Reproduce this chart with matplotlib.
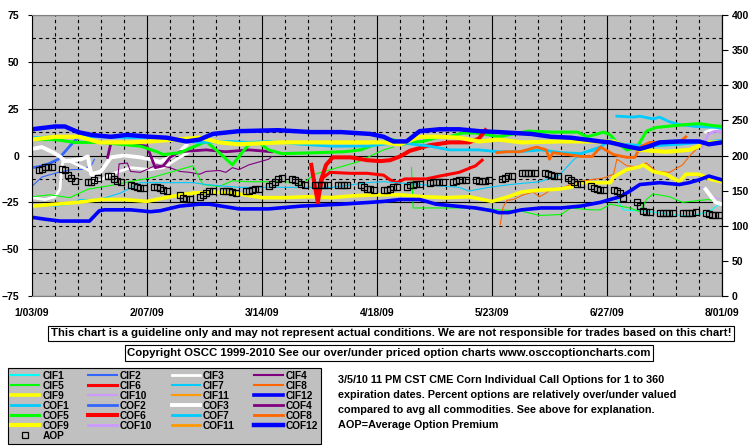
import numpy as np
import pandas as pd
import matplotlib
matplotlib.use('Agg')
import matplotlib.pyplot as plt

plt.rcParams['font.family'] = ['Liberation Sans', 'DejaVu Sans']
plt.rcParams['font.weight'] = 'bold'

# x axis: days since 1/03/09
date_ticks = [0, 35, 70, 105, 140, 175, 210]
date_labels = ['1/03/09', '2/07/09', '3/14/09', '4/18/09', '5/23/09', '6/27/09', '8/01/09']
left_ticks = [75, 50, 25, 0, -25, -50, -75]
right_ticks = [0, 50, 100, 150, 200, 250, 300, 350, 400]

nan = np.nan

# percent over/under valued, (days, values)
cif1_d = [178, 180, 188, 200, 206, 210]
cif1_v = [-23.5, -29, -30, -32.5, -30, -25]
cof1_d = [178, 183, 185, 189, 191, 194, 197, 202, 208, 210]
cof1_v = [21, 20.5, 21, 19.5, 20.5, 18, 16.5, 15.5, 15, 14.5]

cif2_d = [0, 3, 8, 12, 15, 18, 19]
cif2_v = [-16.5, -11.5, -9, -7.5, -7.5, -5.5, -2]
cof2_d = [0, 2, 5, 8, 10, 12, 14, 16]
cof2_v = [-6.5, -6, -4.5, -2, 2, 6, 9.5, 10.5]

cif3_d = [0, 4, 7, 8.5, 9, 9.5, 12, 15, 18, 19, 21, 24, 30, 36, 40, 44, 48, nan, 205, 207, 210]
cif3_v = [-22.5, -23.5, -22, -18, -7.5, -2, -3.5, -6, -8.5, -14.5, -13, -10, -6.5, -7.5, -6.5, -2, 2,
          nan, 12.5, 14, 15]
cof3_d = [0, 3, 6, 8.5, 10, 15, 17, 18, 21, 24, 28, 33, 36, 39, 42, 45, 47, nan, 205, 208, 210]
cof3_v = [3.5, 4.5, 2, -0.5, -3, -2, -0.5, -10, -8.5, -1, 0, -1, -2, -3.5, -1, 2, 5.5, nan, -18, -25, -26]

cif4_d = [26, 26.5, 29, 30, 33, 38, 42, 45, 48, 51, 53, 57, 59, 61, 63, 66, 72, 73]
cif4_v = [-14, -4.5, -4, -8.5, -9, -5, -6.5, -8.5, -9, -10, -8.5, -8, -9, -6.5, -7.5, -5, -2, -0.5]
cof4_d = [23, 24, 30, 35, 37.5, 40, 42, 45, 53, 59, 66, 73]
cof4_v = [-1, 6.5, 6, 5, -6.5, -5.5, -1, 2, 3, 2, 3, 2]

cif5_d = [0, 5.5, 11.5, 17, 24, 31, 36, 43, 49, 52, 57, 61, 66, 72, 77, 82, 86, 91, 99, 107, 110, nan,
          115.5, 116, 121, 130, 136, 142, 148.5, 154.5, 161, 164, 170, 173, 176, 182, 185, 187, 189, 194,
          198, 203, 206, 210]
cif5_v = [-22, -21, -22.5, -18, -16, -13.5, -12, -8.5, -5.5, -15.5, -16.5, -13.5, -14, -14, -14, -15.5,
          -10, -7.5, -3.5, 3, 4.5, nan,
          -6.5, -28, -28, -28, -28, -29, -29.5, -32, -31.5, -28, -29, -29, -26, -28, -30, -23.5, -20.5, -22,
          -25, -24, -23.5, -26]
cof5_d = [0, 7, 13, 21, 27, 33, 38, 40, 45, 49, 53, 57, 61, 63, 66, 69, 72, 76, 87, 95, 100, 103, 107, 110,
          113, 115, 119, 123, 127, 131, 135, 139, 142, 151, 158, 166, 169, 174, 176, 178, 181, 184, 187,
          190, 199, 203, 207, 210]
cof5_v = [8.5, 8.5, 7, 7, 6, 5, 2, 0.5, 1.5, 4.5, 7.5, 1.5, -5, -0.5, 6, 7, 3, 1, 1.5, 2, 3, 5, 7, 8.5,
          6, 7, 7.5, 9.5, 10, 12, 12, 11, 10, 13, 12.5, 12.5, 10, 12.5, 11, 7, 3, 4, 13, 15, 16.5, 17, 16, 15.5]

cif6_d = [87.3, 88.5, 90.7, 96.8, 102, 107, 109, 111, 113.5, 120, 124, 130, 135, 137]
cif6_v = [-22, -12, -9, -9.5, -9.5, -10.5, -13, -14.5, -12.5, -12.5, -11, -9, -5.5, -2.5]
cof6_d = [85, 86, 87, 88, 89.5, 91.5, 97, 102, 106, 109, 112, 115, 121, 127, 133, 136, 138]
cof6_v = [-5, -15.5, -25, -13, -5, -1, -1, -2.5, -3, -2.5, -0.5, 2.5, 5.5, 7, 7, 9, 13.5]

cif7_d = [0, 7, 11.5, 14.5, 20.5, 27, 33, 49, 53, 63, 91.5, 102, 107, 118, 130, 133, 139, 145.5, 154.5,
          160.5, 165, 168, 173]
cif7_v = [-26, -27, -26, -23.5, -23.5, -20, -14.5, -14.5, -15.5, -17, -17, -14.5, -14, -15.5, -17, -19,
          -17, -15.5, -14, -10.5, -2, 1.5, 3]
cof7_d = [0, 7.5, 20, 30, 36, 43, 51, 60, 66, 72, 82, 91, 102, 112, 116, 121, 127, 136, 142, 148, 155,
          161, 167, 173, 176, 180, 188, 197, 203, 210]
cof7_v = [9.5, 10, 10, 9.5, 9.5, 8.5, 7, 7.5, 7, 7.5, 6, 5, 5, 7, 6, 5, 3, 3, 2, 2, 3, 1.5, 1, 4.5, 8.5,
          6, 5, 6, 7, 8]

cif8_d = [142.5, 143.3, 144.5, 146.5, 149.5, 152.5, 154.5, 156.5, 158.5, 160.5, 166, 170, 174, 177, 178,
          179, 181, 184, 187, 190, 194, 198, 200, 202, 204]
cif8_v = [-37, -28, -24, -23.5, -21, -19.5, -22, -20, -17.5, -18, -14, -13, -12, -10, -2, -3, -5.5, -6,
          -4, -8.5, -9, -5, -0.5, 3, 6.5]
cof8_d = [141.5, 144.5, 148.5, 153.5, 156.5, 157.5, 158.5, 163, 167, 170.5, 173, 177, 181, 183.5, 185,
          188, 193, 197, 199]
cof8_v = [1.5, 2, 2, 4.5, 3, -2, 1.5, 0.5, -0.5, -0.5, 4.5, 0.5, -1, -1, 4.5, 7, 7, 7, 10]

cif9_d = [0, 7, 14, 21, 28, 35, 42, 49, 56, 63, 70, 77, 84, 91, 98, 105, 112, 119, 126, 133, 140, 145,
          149, 154, 160, 164, 167, 171, 176, 177, 181, 185, 186, 189, 193, 197, 199, 203, 205, 207, 210]
cif9_v = [-27, -26, -25, -23.5, -23.5, -24.5, -22, -20, -19.5, -20.5, -22.5, -22.5, -22, -22.5, -21.5,
          -21, -21, -22, -22.5, -22, -24.5, -22, -19.5, -18.5, -18, -17, -14.5, -14.5, -14.5, -11.5, -7.5,
          -6, -5, -8.5, -10, -14, -10, -10, -11.5, -13, -14]
cof9_d = [0, 7, 14.5, 20.5, 30, 36, 43.5, 51, 57, 63, 75.5, 91, 107, 112, 118, 124, 130, 136, 142, 149,
          161, 173, 177, 180, 185, 193, 200, 203, 206, 210]
cof9_v = [8.5, 10, 10, 7, 7, 7.5, 8.5, 9.5, 7, 6, 7, 7, 7, 6, 10, 10, 9.5, 7.5, 8.5, 7, 7.5, 7.5, 7.5,
          5.5, 3, 2, 3, 5, 7, 7]

cif10_d = [204, 205.5, 208, 210]
cif10_v = [-17, -20, -22.5, -23.5]
cof10_d = [204, 205, 206, 208, 210]
cof10_v = [4.5, 8.5, 11.5, 13, 12.5]

cif12_d = [0, 4, 8.5, 17.5, 20.5, 22, 30, 36, 39, 45, 51, 54, 63, 72, 82, 94, 103, 107, 112, 118, 123,
           129, 135, 140, 142, 145, 149, 155, 161, 167, 173, 176, 179, 182, 185, 191, 197, 200, 203, 206, 210]
cif12_v = [-33, -34, -35, -35, -29.5, -29, -29, -30, -29.5, -27, -26, -26, -28.5, -28.5, -27, -26, -25,
           -24.5, -23.5, -23.5, -26, -27, -28, -29.5, -30.5, -30.5, -29, -28, -28, -27, -25, -23.5, -22,
           -19, -15.5, -14.5, -15.5, -14.5, -13, -11, -13]
cof12_d = [0, 7, 10, 14, 18, 24, 29, 36, 41, 47, 51, 55, 63, 75, 85, 94, 103, 107, 110, 114, 118, 124,
           130, 136, 142, 152, 158, 164, 173, 176, 182, 185, 188, 191, 197, 203, 206, 210]
cof12_v = [14, 15.5, 15.5, 12.5, 11, 10, 11, 10, 9.5, 7.5, 8.5, 11.5, 13, 13.5, 12.5, 12.5, 11.5, 10, 7.5,
           7.5, 13, 14, 14, 13, 12.5, 11.5, 10, 9.5, 7.5, 7, 4.5, 3.5, 5, 7, 7.5, 7.5, 6, 7]

# average option premium, one value per trading day (Jan 5 - Jul 31 2009)
holidays = ['2009-01-19', '2009-02-16', '2009-04-10', '2009-05-25', '2009-07-03']
aop_v = [-8, -7, -6, -6, -6,
         -7, -8, -10.5, -12, -13.5,
         -14, -14, -13, -12,
         -11, -11, -12.5, -13.5, -14,
         -15.5, -16.5, -17, -17.5, -17.5,
         -17, -17, -17.5, -18.5, -19,
         -21, -22.5, -23, -23,
         -22, -21, -20, -19, -19,
         -19, -19, -19, -19.5, -20,
         -19, -19, -18.5, -18, -18,
         -16.5, -15, -14, -12.5, -12,
         -12.5, -13, -14, -15, -15.5,
         -15.5, -15.5, -15.5, -15.5, -15.5,
         -15.5, -16, -16, -16,
         -16, -17, -18, -18, -18.5,
         -18.5, -18.5, -18, -17, -17,
         -17, -16, -15.5, -15, -15,
         -14.5, -14, -14, -14, -14,
         -14, -13.5, -13, -13, -13,
         -13, -13.5, -13.5, -13.5, -13,
         -12.5, -12, -11, -11,
         -9.5, -9.5, -9.5, -9.5, -9.5,
         -9.5, -10, -10.5, -11, -11,
         -12, -13, -14, -15, -15,
         -16.5, -17.5, -18, -18.5, -18.5,
         -18.5, -19, -20, -22.5,
         -25, -27, -29.5, -30, -30,
         -30.5, -30.5, -30.5, -30.5, -30.5,
         -30.5, -30.5, -30.5, -30.5, -30,
         -30.5, -31, -31.5, -31.5, -31.5]
trade_days = pd.bdate_range('2009-01-05', '2009-07-31').drop(pd.to_datetime(holidays))
aop_d = (trade_days - pd.Timestamp('2009-01-03')).days

# label, days, values, colour, width
series = [
    ('CIF1', cif1_d, cif1_v, '#00FFFF', 0.8),
    ('CIF2', cif2_d, cif2_v, '#3366FF', 0.8),
    ('CIF3', cif3_d, cif3_v, '#FFFFFF', 2.0),
    ('CIF4', cif4_d, cif4_v, '#800080', 0.8),
    ('CIF5', cif5_d, cif5_v, '#00FF00', 0.8),
    ('CIF6', cif6_d, cif6_v, '#FF0000', 2.2),
    ('CIF7', cif7_d, cif7_v, '#00CCFF', 0.8),
    ('CIF8', cif8_d, cif8_v, '#FF6600', 0.8),
    ('CIF9', cif9_d, cif9_v, '#FFFF00', 2.6),
    ('CIF10', cif10_d, cif10_v, '#CC99FF', 0.8),
    ('CIF11', [], [], '#FF9900', 0.8),
    ('CIF12', cif12_d, cif12_v, '#0000FF', 2.6),
    ('COF1', cof1_d, cof1_v, '#00CCFF', 2.0),
    ('COF2', cof2_d, cof2_v, '#3366FF', 2.0),
    ('COF3', cof3_d, cof3_v, '#FFFFFF', 2.8),
    ('COF4', cof4_d, cof4_v, '#800080', 2.0),
    ('COF5', cof5_d, cof5_v, '#00FF00', 2.2),
    ('COF6', cof6_d, cof6_v, '#FF0000', 2.9),
    ('COF7', cof7_d, cof7_v, '#00CCFF', 2.0),
    ('COF8', cof8_d, cof8_v, '#FF6600', 2.0),
    ('COF9', cof9_d, cof9_v, '#FFFF00', 3.0),
    ('COF10', cof10_d, cof10_v, '#CC99FF', 2.0),
    ('COF11', [], [], '#FF9900', 2.0),
    ('COF12', cof12_d, cof12_v, '#0000FF', 3.2),
]

fig = plt.figure(figsize=(7.55, 4.46), dpi=100)
ax = fig.add_axes([32 / 755, 1 - 296 / 446, 690 / 755, 281 / 446])
ax.set_facecolor('#C0C0C0')

handles = {}
for name, d, v, col, lw in series:
    line, = ax.plot(d, v, color=col, lw=lw, solid_joinstyle='round', label=name)
    handles[name] = line
aop, = ax.plot(aop_d, aop_v, ls='none', marker='s', ms=4.3, mfc='none', mec='black', mew=0.9,
               zorder=4, label='AOP')
handles['AOP'] = aop

ax.set_xlim(0, 210)
ax.set_ylim(-75, 75)
ax.set_xticks(date_ticks)
ax.set_xticklabels(date_labels)
ax.set_xticks(np.arange(0, 211, 7), minor=True)
ax.set_yticks(left_ticks)
ax.set_yticks(np.arange(-62.5, 75, 25), minor=True)
ax.set_axisbelow(True)
ax.grid(which='major', color='black', lw=0.8, ls='-')
ax.grid(which='minor', color='black', lw=0.8, ls=(0, (3, 3)))
ax.tick_params(which='minor', length=0)
ax.tick_params(axis='x', which='major', length=0, pad=9, labelsize=7.5)
ax.tick_params(axis='y', which='major', length=3, width=0.8, pad=6, labelsize=7.5)
for s in ('top', 'bottom'):
    ax.spines[s].set_color('#808080')
ax.spines['left'].set_color('black')

ax2 = ax.twinx()
ax2.set_ylim(0, 400)
ax2.set_yticks(right_ticks)
ax2.tick_params(axis='y', length=4, width=0.8, pad=3, labelsize=7.5)
ax2.spines['right'].set_color('black')
for s in ('top', 'bottom', 'left'):
    ax2.spines[s].set_visible(False)

# legend laid out row by row like the original (matplotlib fills by column)
names = [s[0] for s in series] + ['AOP']
order = [n for c in range(4) for n in names[c::4]]
leg = fig.legend([handles[n] for n in order], order, loc='upper left',
                 bbox_to_anchor=(8 / 755, 1 - 368 / 446), ncol=4, frameon=True, fancybox=False,
                 edgecolor='black', facecolor='#C0C0C0', framealpha=1, borderaxespad=0,
                 prop={'weight': 'bold', 'size': 7.3}, handlelength=2.8, handletextpad=0.3,
                 columnspacing=1.9, labelspacing=0.0, borderpad=0.3)
leg.get_frame().set_linewidth(0.8)
for n, ln in zip(order, leg.get_lines()):
    if n.startswith('CIF') and n not in ('CIF3', 'CIF6', 'CIF9', 'CIF12'):
        ln.set_linewidth(1.5)

fig.text(391 / 755, 1 - 333.5 / 446,
         'This chart is a guideline only and may not represent actual conditions. '
         'We are not responsible for trades based on this chart!',
         ha='center', va='center', fontsize=8.2, fontweight='bold',
         bbox=dict(boxstyle='square,pad=0.22', fc='white', ec='black', lw=0.8))
fig.text(389 / 755, 1 - 353 / 446,
         'Copyright OSCC 1999-2010 See our over/under priced option charts www.osccoptioncharts.com',
         ha='center', va='center', fontsize=8.2, fontweight='bold',
         bbox=dict(boxstyle='square,pad=0.22', fc='white', ec='black', lw=0.8))

notes = ['3/5/10 11 PM CST CME Corn Individual Call Options for 1 to 360',
         'expiration dates. Percent options are relatively over/under valued',
         'compared to avg all commodities. See above for explanation.',
         'AOP=Average Option Premium']
for i, t in enumerate(notes):
    fig.text(338 / 755, 1 - (380 + 15 * i) / 446, t, ha='left', va='center', fontsize=7.8,
             fontweight='bold')

fig.savefig('out.png', dpi=100, facecolor='white')
